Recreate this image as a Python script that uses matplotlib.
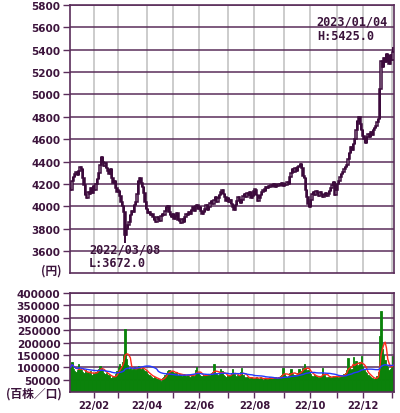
import numpy as np
import pandas as pd
import matplotlib
matplotlib.use('Agg')
import matplotlib.pyplot as plt

# exchange holidays on weekdays (2022-01-05 .. 2023-01-04)
holidays = ['2022-01-10', '2022-02-11', '2022-02-23', '2022-03-21', '2022-04-29',
            '2022-05-03', '2022-05-04', '2022-05-05', '2022-07-18', '2022-08-11',
            '2022-09-19', '2022-09-23', '2022-10-10', '2022-11-03', '2022-11-23',
            '2023-01-02', '2023-01-03']

# daily closes (円)
closes = [
    4150, 4230, 4260, 4290, 4310, 4280, 4320, 4350, 4330,
    4250, 4190, 4100, 4070, 4130, 4110, 4160, 4120, 4180, 4150,
    4200, 4240, 4300, 4370, 4440, 4400, 4360, 4390, 4340, 4320,
    4290, 4330, 4250, 4210, 4230, 4160, 4130, 4140, 4090, 4040,
    4000, 3950, 3740, 3800, 3830, 3860, 3920, 3960, 3950, 4010,
    4040, 4110, 4230, 4250, 4210, 4170, 4120, 4040, 3980, 3940,
    3950, 3920, 3930, 3900, 3880, 3860, 3900, 3890, 3870, 3910,
    3930, 3920, 3960, 3990, 4000, 3950, 3920, 3900, 3930, 3890,
    3910, 3940, 3880, 3870, 3850, 3890, 3860, 3900, 3930, 3920,
    3950, 3930, 3970, 3990, 3960, 4000, 4010, 3980, 3990, 3960,
    3930, 3950, 3980, 4010, 3970, 3990, 4030, 4050, 4020, 4060,
    4080, 4040, 4070, 4100, 4130, 4150, 4110, 4080, 4050, 4070,
    4040, 4060, 4020, 3990, 3970, 4010, 4050, 4080, 4060, 4030,
    4060, 4090, 4110, 4080, 4120, 4100, 4130, 4070, 4090, 4140,
    4150, 4100, 4050, 4070, 4100, 4130, 4150, 4140, 4170, 4160,
    4180, 4170, 4190, 4180, 4200, 4170, 4190, 4180, 4200, 4190,
    4210, 4180, 4200, 4190, 4220, 4200, 4260, 4300, 4330, 4310,
    4340, 4320, 4350, 4360, 4380, 4340, 4270, 4250, 4150, 4080,
    4020, 3990, 4060, 4110, 4130, 4100, 4140, 4120, 4090, 4130,
    4110, 4080, 4100, 4120, 4090, 4110, 4140, 4160, 4190, 4220,
    4100, 4150, 4200, 4230, 4260, 4290, 4310, 4330, 4350, 4370,
    4420, 4480, 4530, 4500, 4560, 4600, 4680, 4760, 4800, 4740,
    4680, 4630, 4600, 4570, 4620, 4650, 4620, 4660, 4640, 4680,
    4700, 4720, 4750, 4780, 5050, 5300, 5250, 5330, 5290, 5360,
    5300, 5270, 5350, 5310, 5380,
]

# daily volume (百株)
volumes = [
    100000, 121000, 95000, 85000, 80000, 90000, 112000, 95000, 88000,
    82000, 78000, 90000, 75000, 80000, 72000, 85000, 70000, 78000, 74000,
    80000, 88000, 95000, 105000, 98000, 85000, 78000, 72000, 76000, 70000,
    68000, 58000, 55000, 62000, 66000, 72000, 85000, 100000, 112000, 105000,
    120000, 150000, 255000, 135000, 110000, 92000, 98000, 88000, 95000, 102000,
    90000, 96000, 105000, 98000, 92000, 100000, 88000, 85000, 80000, 72000,
    70000, 65000, 62000, 58000, 60000, 55000, 52000, 50000, 48000, 46000,
    55000, 62000, 70000, 78000, 85000, 90000, 82000, 86000, 80000, 76000,
    72000, 80000, 68000, 74000, 70000, 66000, 72000, 68000, 64000, 70000,
    66000, 62000, 68000, 72000, 65000, 88000, 100000, 78000, 70000, 66000,
    64000, 70000, 66000, 72000, 68000, 74000, 70000, 76000, 82000, 113000,
    78000, 72000, 68000, 74000, 93000, 85000, 70000, 66000, 62000, 68000,
    64000, 70000, 75000, 93000, 72000, 66000, 62000, 68000, 64000, 80000,
    97000, 70000, 60000, 56000, 62000, 58000, 54000, 60000, 56000, 52000,
    58000, 62000, 55000, 52000, 60000, 56000, 50000, 54000, 58000, 52000,
    55000, 60000, 56000, 52000, 58000, 62000, 56000, 54000, 60000, 64000,
    70000, 97000, 72000, 64000, 60000, 66000, 78000, 95000, 74000, 68000,
    70000, 66000, 75000, 92000, 80000, 85000, 96000, 113000, 98000, 85000,
    90000, 82000, 72000, 66000, 62000, 68000, 64000, 60000, 58000, 62000,
    66000, 97000, 70000, 62000, 58000, 60000, 64000, 58000, 62000, 66000,
    60000, 64000, 62000, 58000, 66000, 70000, 68000, 72000, 76000, 90000,
    137000, 100000, 88000, 95000, 140000, 110000, 125000, 100000, 110000, 120000,
    145000, 100000, 88000, 80000, 75000, 70000, 66000, 60000, 55000, 50000,
    52000, 58000, 66000, 80000, 225000, 328000, 175000, 150000, 130000, 110000,
    100000, 90000, 95000, 110000, 145000,
]

low_date, low_price = '2022/03/08', 3672.0
high_date, high_price = '2023/01/04', 5425.0

price_ticks = list(range(3600, 5801, 200))
volume_ticks = list(range(50000, 400001, 50000))
label_months = [2, 4, 6, 8, 10, 12]

TXT = '#3c143c'
GRID = '#5a2d5a'
VGRID = '#c4c4c4'
CANDLE = '#3c0a3c'
GREEN = '#0a820a'

dates = pd.bdate_range('2022-01-05', '2023-01-04')
dates = dates[~dates.isin(pd.to_datetime(holidays))]
assert len(dates) == len(closes) == len(volumes), (len(dates), len(closes), len(volumes))

closes = np.array(closes, dtype=float)
opens = np.r_[closes[0], closes[:-1]]
highs = np.maximum(opens, closes)
lows = np.minimum(opens, closes)
day_str = list(dates.strftime('%Y/%m/%d'))
lows[day_str.index(low_date)] = low_price
highs[day_str.index(high_date)] = high_price

x = np.arange(len(dates))
month_start = [i for i in range(1, len(dates)) if dates[i].month != dates[i - 1].month]
month_lines = [m - 0.5 for m in month_start]
month_text = [dates[m].strftime('%y/%m') if dates[m].month in label_months else ''
              for m in month_start]

fig = plt.figure(figsize=(4, 4.14), dpi=100)
ax1 = fig.add_axes([0.175, 0.3372, 0.81, 0.6483])
ax2 = fig.add_axes([0.175, 0.0507, 0.81, 0.2391])

for ax in (ax1, ax2):
    ax.set_xlim(-0.5, 243.7)
    ax.set_xticks(month_lines)
    ax.grid(axis='x', color=VGRID, lw=1.2)
    ax.grid(axis='y', color=GRID, lw=1.1)
    ax.set_axisbelow(True)
    for s in ax.spines.values():
        s.set_color(GRID)
        s.set_linewidth(1.2)
    ax.tick_params(axis='y', colors=GRID, length=5, width=1, pad=2,
                   labelcolor=TXT)

# price panel
up = closes >= opens
body_lo = np.minimum(opens, closes)
body_h = np.maximum(np.abs(closes - opens), 12)
ax1.vlines(x, lows, highs, color=CANDLE, lw=1.4, zorder=2)
ax1.bar(x, body_h, bottom=body_lo, width=1.0,
        color=np.where(up, 'white', CANDLE), edgecolor=CANDLE, lw=1.1, zorder=3)
ax1.set_ylim(3400, 5800)
ax1.set_yticks(price_ticks)
ax1.set_yticklabels([str(v) for v in price_ticks], fontsize=7.5, fontweight='bold')
ax1.tick_params(axis='x', length=0, labelbottom=False)

mono = dict(family='DejaVu Sans Mono', fontsize=8.6, fontweight='bold', color=TXT,
            ha='left', va='center')
ax1.text(14, 3615, low_date, **mono)
ax1.text(14, 3500, 'L:%.1f' % low_price, **mono)
ax1.text(185.5, 5660, high_date, **mono)
ax1.text(185.5, 5525, 'H:%.1f' % high_price, **mono)

cjk = ['Noto Sans CJK JP', 'DejaVu Sans']
fig.text(0.155, 1 - 271 / 414, '(円)', family=cjk, fontsize=8.5, fontweight='bold',
         color=TXT, ha='right', va='center')

# volume panel
vol = pd.Series(volumes, dtype=float)
ax2.bar(x, vol, width=1.0, color=GREEN, edgecolor=GREEN, lw=0.6, zorder=2)
ax2.plot(x, vol.rolling(5, min_periods=1).mean(), color='#ff2a1a', lw=1.0, zorder=3)
ax2.plot(x, vol.rolling(25, min_periods=1).mean(), color='#2438ff', lw=1.0, zorder=3)
ax2.set_ylim(0, 400000)
ax2.set_yticks(volume_ticks)
ax2.set_yticklabels([str(v) for v in volume_ticks], fontsize=7.6, fontweight='bold')
ax2.set_xticklabels(month_text, fontsize=7.2, fontweight='bold', color=TXT)
ax2.tick_params(axis='x', colors=GRID, length=4, width=1, pad=2, labelcolor=TXT)

fig.text(0.155, 1 - 394 / 414, '(百株／口)', family=cjk, fontsize=8.5, fontweight='bold',
         color=TXT, ha='right', va='center')

fig.savefig('out.png', dpi=100, facecolor='white')
